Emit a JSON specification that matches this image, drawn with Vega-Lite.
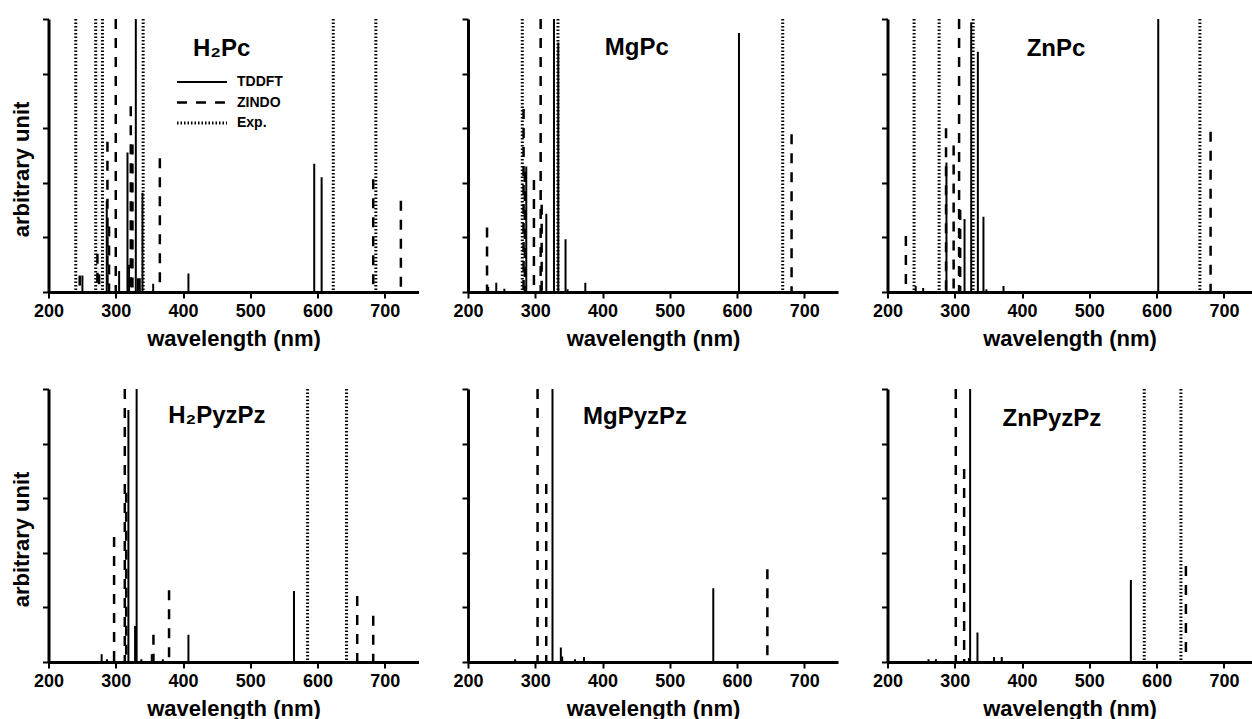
{
  "$schema": "https://vega.github.io/schema/vega-lite/v6.json",
  "padding": {"left": 10.5, "top": 17, "right": 0, "bottom": 0},
  "background": "white",
  "config": {
    "view": {"stroke": null},
    "font": "Liberation Sans",
    "axis": {
      "domainColor": "black", "domainWidth": 3, "tickColor": "black", "tickWidth": 2, "tickSize": 6,
      "labelFont": "Liberation Sans", "labelFontSize": 18, "labelFontWeight": "bold", "labelColor": "black",
      "titleFont": "Liberation Sans", "titleFontSize": 22, "titleFontWeight": "bold", "titleColor": "black",
      "grid": false, "labelOverlap": false, "labelFlush": false
    },
    "axisX": {"labelExpr": "datum.value % 100 === 0 ? datum.label : ''", "labelPadding": 4, "titlePadding": 8,
      "encode": {"ticks": {"update": {"y2": {"signal": "datum.value % 100 === 0 ? 6 : 3"}}}}},
    "axisY": {"labels": false, "titlePadding": 8, "values": [0,0.1,0.2,0.3,0.4,0.5,0.6,0.7,0.8,0.9,1],
      "encode": {"ticks": {"update": {"x2": {"signal": "round(datum.value*10) % 2 === 0 ? -6 : -3"}}}}},
    "legend": {"labelFont": "Liberation Sans"}
  },
  "datasets": {
    "sticks": [
      {"panel": "H2Pc", "method": "Exp.", "wl": 240.5, "h": 1},
      {"panel": "H2Pc", "method": "Exp.", "wl": 270.2, "h": 1},
      {"panel": "H2Pc", "method": "Exp.", "wl": 280.2, "h": 1},
      {"panel": "H2Pc", "method": "Exp.", "wl": 340.7, "h": 1},
      {"panel": "H2Pc", "method": "Exp.", "wl": 623.3, "h": 1},
      {"panel": "H2Pc", "method": "Exp.", "wl": 686.6, "h": 1},
      {"panel": "H2Pc", "method": "TDDFT", "wl": 250.4, "h": 0.06},
      {"panel": "H2Pc", "method": "TDDFT", "wl": 286.6, "h": 0.334},
      {"panel": "H2Pc", "method": "TDDFT", "wl": 305, "h": 0.077},
      {"panel": "H2Pc", "method": "TDDFT", "wl": 317.4, "h": 0.511},
      {"panel": "H2Pc", "method": "TDDFT", "wl": 319.8, "h": 0.1},
      {"panel": "H2Pc", "method": "TDDFT", "wl": 329.8, "h": 1.0},
      {"panel": "H2Pc", "method": "TDDFT", "wl": 333, "h": 0.05},
      {"panel": "H2Pc", "method": "TDDFT", "wl": 335.7, "h": 0.05},
      {"panel": "H2Pc", "method": "TDDFT", "wl": 339.7, "h": 0.364},
      {"panel": "H2Pc", "method": "TDDFT", "wl": 355.6, "h": 0.03},
      {"panel": "H2Pc", "method": "TDDFT", "wl": 408, "h": 0.068},
      {"panel": "H2Pc", "method": "TDDFT", "wl": 595, "h": 0.47},
      {"panel": "H2Pc", "method": "TDDFT", "wl": 606, "h": 0.42},
      {"panel": "H2Pc", "method": "ZINDO", "wl": 246.4, "h": 0.06},
      {"panel": "H2Pc", "method": "ZINDO", "wl": 272.7, "h": 0.14},
      {"panel": "H2Pc", "method": "ZINDO", "wl": 275.2, "h": 0.065},
      {"panel": "H2Pc", "method": "ZINDO", "wl": 287.6, "h": 0.55},
      {"panel": "H2Pc", "method": "ZINDO", "wl": 290, "h": 0.24},
      {"panel": "H2Pc", "method": "ZINDO", "wl": 300, "h": 1.0},
      {"panel": "H2Pc", "method": "ZINDO", "wl": 322.3, "h": 0.68},
      {"panel": "H2Pc", "method": "ZINDO", "wl": 324.8, "h": 0.54},
      {"panel": "H2Pc", "method": "ZINDO", "wl": 365.5, "h": 0.49},
      {"panel": "H2Pc", "method": "ZINDO", "wl": 682.7, "h": 0.413},
      {"panel": "H2Pc", "method": "ZINDO", "wl": 723.8, "h": 0.334},

      {"panel": "MgPc", "method": "Exp.", "wl": 280.7, "h": 1},
      {"panel": "MgPc", "method": "Exp.", "wl": 333.7, "h": 1},
      {"panel": "MgPc", "method": "Exp.", "wl": 667.8, "h": 1},
      {"panel": "MgPc", "method": "TDDFT", "wl": 230, "h": 0.018},
      {"panel": "MgPc", "method": "TDDFT", "wl": 242, "h": 0.034},
      {"panel": "MgPc", "method": "TDDFT", "wl": 254, "h": 0.012},
      {"panel": "MgPc", "method": "TDDFT", "wl": 286.6, "h": 0.46},
      {"panel": "MgPc", "method": "TDDFT", "wl": 316.4, "h": 0.287},
      {"panel": "MgPc", "method": "TDDFT", "wl": 327.8, "h": 1.0},
      {"panel": "MgPc", "method": "TDDFT", "wl": 334.2, "h": 0.914},
      {"panel": "MgPc", "method": "TDDFT", "wl": 345, "h": 0.193},
      {"panel": "MgPc", "method": "TDDFT", "wl": 348, "h": 0.01},
      {"panel": "MgPc", "method": "TDDFT", "wl": 374.4, "h": 0.034},
      {"panel": "MgPc", "method": "TDDFT", "wl": 602.8, "h": 0.949},
      {"panel": "MgPc", "method": "ZINDO", "wl": 228.3, "h": 0.236},
      {"panel": "MgPc", "method": "ZINDO", "wl": 282.6, "h": 0.67},
      {"panel": "MgPc", "method": "ZINDO", "wl": 284.5, "h": 0.44},
      {"panel": "MgPc", "method": "ZINDO", "wl": 298, "h": 0.41},
      {"panel": "MgPc", "method": "ZINDO", "wl": 308, "h": 1.0},
      {"panel": "MgPc", "method": "ZINDO", "wl": 309.5, "h": 0.32},
      {"panel": "MgPc", "method": "ZINDO", "wl": 681, "h": 0.578},

      {"panel": "ZnPc", "method": "Exp.", "wl": 239.5, "h": 1},
      {"panel": "ZnPc", "method": "Exp.", "wl": 276.7, "h": 1},
      {"panel": "ZnPc", "method": "Exp.", "wl": 327.3, "h": 1},
      {"panel": "ZnPc", "method": "Exp.", "wl": 664.3, "h": 1},
      {"panel": "ZnPc", "method": "TDDFT", "wl": 242, "h": 0.022},
      {"panel": "ZnPc", "method": "TDDFT", "wl": 253, "h": 0.015},
      {"panel": "ZnPc", "method": "TDDFT", "wl": 287.6, "h": 0.474},
      {"panel": "ZnPc", "method": "TDDFT", "wl": 314.5, "h": 0.267},
      {"panel": "ZnPc", "method": "TDDFT", "wl": 324.4, "h": 0.988},
      {"panel": "ZnPc", "method": "TDDFT", "wl": 334.3, "h": 0.88},
      {"panel": "ZnPc", "method": "TDDFT", "wl": 342.6, "h": 0.276},
      {"panel": "ZnPc", "method": "TDDFT", "wl": 347, "h": 0.01},
      {"panel": "ZnPc", "method": "TDDFT", "wl": 372.4, "h": 0.022},
      {"panel": "ZnPc", "method": "TDDFT", "wl": 602.4, "h": 1.0},
      {"panel": "ZnPc", "method": "ZINDO", "wl": 227.3, "h": 0.205},
      {"panel": "ZnPc", "method": "ZINDO", "wl": 287, "h": 0.6},
      {"panel": "ZnPc", "method": "ZINDO", "wl": 298.3, "h": 0.537},
      {"panel": "ZnPc", "method": "ZINDO", "wl": 306.4, "h": 1.0},
      {"panel": "ZnPc", "method": "ZINDO", "wl": 308, "h": 0.3},
      {"panel": "ZnPc", "method": "ZINDO", "wl": 680.2, "h": 0.587},

      {"panel": "H2PyzPz", "method": "Exp.", "wl": 585.1, "h": 1},
      {"panel": "H2PyzPz", "method": "Exp.", "wl": 643, "h": 1},
      {"panel": "H2PyzPz", "method": "TDDFT", "wl": 279, "h": 0.028},
      {"panel": "H2PyzPz", "method": "TDDFT", "wl": 287, "h": 0.01},
      {"panel": "H2PyzPz", "method": "TDDFT", "wl": 318.8, "h": 0.923},
      {"panel": "H2PyzPz", "method": "TDDFT", "wl": 328.7, "h": 0.132},
      {"panel": "H2PyzPz", "method": "TDDFT", "wl": 331, "h": 1.0},
      {"panel": "H2PyzPz", "method": "TDDFT", "wl": 338, "h": 0.01},
      {"panel": "H2PyzPz", "method": "TDDFT", "wl": 353.5, "h": 0.028},
      {"panel": "H2PyzPz", "method": "TDDFT", "wl": 370, "h": 0.01},
      {"panel": "H2PyzPz", "method": "TDDFT", "wl": 408, "h": 0.1},
      {"panel": "H2PyzPz", "method": "TDDFT", "wl": 564.9, "h": 0.26},
      {"panel": "H2PyzPz", "method": "ZINDO", "wl": 297.5, "h": 0.458},
      {"panel": "H2PyzPz", "method": "ZINDO", "wl": 313.4, "h": 1.0},
      {"panel": "H2PyzPz", "method": "ZINDO", "wl": 315.5, "h": 0.62},
      {"panel": "H2PyzPz", "method": "ZINDO", "wl": 356, "h": 0.1},
      {"panel": "H2PyzPz", "method": "ZINDO", "wl": 379.2, "h": 0.263},
      {"panel": "H2PyzPz", "method": "ZINDO", "wl": 658.9, "h": 0.242},
      {"panel": "H2PyzPz", "method": "ZINDO", "wl": 682.7, "h": 0.169},

      {"panel": "MgPyzPz", "method": "TDDFT", "wl": 270, "h": 0.01},
      {"panel": "MgPyzPz", "method": "TDDFT", "wl": 316, "h": 0.01},
      {"panel": "MgPyzPz", "method": "TDDFT", "wl": 325.6, "h": 1.0},
      {"panel": "MgPyzPz", "method": "TDDFT", "wl": 338, "h": 0.053},
      {"panel": "MgPyzPz", "method": "TDDFT", "wl": 340, "h": 0.02},
      {"panel": "MgPyzPz", "method": "TDDFT", "wl": 359, "h": 0.01},
      {"panel": "MgPyzPz", "method": "TDDFT", "wl": 372.4, "h": 0.018},
      {"panel": "MgPyzPz", "method": "TDDFT", "wl": 564.6, "h": 0.27},
      {"panel": "MgPyzPz", "method": "ZINDO", "wl": 303.4, "h": 1.0},
      {"panel": "MgPyzPz", "method": "ZINDO", "wl": 316.3, "h": 0.652},
      {"panel": "MgPyzPz", "method": "ZINDO", "wl": 645, "h": 0.34},

      {"panel": "ZnPyzPz", "method": "Exp.", "wl": 581.6, "h": 1},
      {"panel": "ZnPyzPz", "method": "Exp.", "wl": 636.1, "h": 1},
      {"panel": "ZnPyzPz", "method": "TDDFT", "wl": 261, "h": 0.01},
      {"panel": "ZnPyzPz", "method": "TDDFT", "wl": 272, "h": 0.01},
      {"panel": "ZnPyzPz", "method": "TDDFT", "wl": 321, "h": 0.015},
      {"panel": "ZnPyzPz", "method": "TDDFT", "wl": 322.8, "h": 1.0},
      {"panel": "ZnPyzPz", "method": "TDDFT", "wl": 333.7, "h": 0.108},
      {"panel": "ZnPyzPz", "method": "TDDFT", "wl": 358.4, "h": 0.018},
      {"panel": "ZnPyzPz", "method": "TDDFT", "wl": 369.8, "h": 0.018},
      {"panel": "ZnPyzPz", "method": "TDDFT", "wl": 561.7, "h": 0.3},
      {"panel": "ZnPyzPz", "method": "ZINDO", "wl": 301.5, "h": 1.0},
      {"panel": "ZnPyzPz", "method": "ZINDO", "wl": 313.9, "h": 0.707},
      {"panel": "ZnPyzPz", "method": "ZINDO", "wl": 643.5, "h": 0.352}
    ]
  },
  "data": {"name": "sticks"},
  "bounds": "flush",
  "columns": 3,
  "spacing": {"row": 97, "column": 49.5},
  "concat": [
    {
      "width": 370, "height": 273,
      "layer": [
        {
          "transform": [{"filter": "datum.panel === 'H2Pc'"}],
          "mark": {"type": "rule", "color": "black", "strokeCap": "butt"},
          "encoding": {
            "x": {"field": "wl", "type": "quantitative", "scale": {"domain": [200, 750], "nice": false, "zero": false},
                  "axis": {"values": [200,250,300,350,400,450,500,550,600,650,700,750], "title": "wavelength (nm)"}},
            "y": {"field": "h", "type": "quantitative", "scale": {"domain": [0, 1], "nice": false},
                  "axis": {"title": "arbitrary unit", "titleY": 150}},
            "y2": {"datum": 0},
            "strokeDash": {"field": "method", "type": "nominal", "scale": {"domain": ["TDDFT", "ZINDO", "Exp."], "range": [[1, 0], [10, 9], [1.5, 2]]},
                  "legend": {"orient": "none", "legendX": 146.5, "legendY": 56, "title": null, "symbolType": "M-5,0H5", "symbolSize": 100, "symbolStrokeColor": "black", "labelFontSize": 14, "labelFontWeight": "bold", "labelColor": "black", "labelOffset": 28, "rowPadding": 6.5, "padding": 0}},
            "strokeWidth": {"field": "method", "type": "nominal", "scale": {"domain": ["TDDFT", "ZINDO", "Exp."], "range": [2, 3, 1.5]},
                  "legend": {"orient": "none", "legendX": 146.5, "legendY": 56, "title": null, "symbolType": "M-5,0H5", "symbolSize": 100, "symbolStrokeColor": "black", "labelFontSize": 14, "labelFontWeight": "bold", "labelColor": "black", "labelOffset": 28, "rowPadding": 6.5, "padding": 0}}
          }
        },
        {
          "data": {"values": [{"name": "H₂Pc"}]},
          "mark": {"type": "text", "align": "left", "baseline": "alphabetic", "fontSize": 24, "fontWeight": "bold", "color": "black"},
          "encoding": {"x": {"datum": 414.8, "type": "quantitative"}, "y": {"datum": 0.865, "type": "quantitative"}, "text": {"field": "name"}}
        }
      ]
    },
    {
      "width": 370, "height": 273,
      "layer": [
        {
          "transform": [{"filter": "datum.panel === 'MgPc'"}],
          "mark": {"type": "rule", "color": "black", "strokeCap": "butt"},
          "encoding": {
            "x": {"field": "wl", "type": "quantitative", "scale": {"domain": [200, 750], "nice": false, "zero": false},
                  "axis": {"values": [200,250,300,350,400,450,500,550,600,650,700,750], "title": "wavelength (nm)"}},
            "y": {"field": "h", "type": "quantitative", "scale": {"domain": [0, 1], "nice": false},
                  "axis": {"title": null}},
            "y2": {"datum": 0},
            "strokeDash": {"field": "method", "type": "nominal", "scale": {"domain": ["TDDFT", "ZINDO", "Exp."], "range": [[1, 0], [10, 9], [1.5, 2]]},
                  "legend": {"orient": "none", "legendX": 146.5, "legendY": 56, "title": null, "symbolType": "M-5,0H5", "symbolSize": 100, "symbolStrokeColor": "black", "labelFontSize": 14, "labelFontWeight": "bold", "labelColor": "black", "labelOffset": 28, "rowPadding": 6.5, "padding": 0}},
            "strokeWidth": {"field": "method", "type": "nominal", "scale": {"domain": ["TDDFT", "ZINDO", "Exp."], "range": [2, 3, 1.5]},
                  "legend": {"orient": "none", "legendX": 146.5, "legendY": 56, "title": null, "symbolType": "M-5,0H5", "symbolSize": 100, "symbolStrokeColor": "black", "labelFontSize": 14, "labelFontWeight": "bold", "labelColor": "black", "labelOffset": 28, "rowPadding": 6.5, "padding": 0}}
          }
        },
        {
          "data": {"values": [{"name": "MgPc"}]},
          "mark": {"type": "text", "align": "left", "baseline": "alphabetic", "fontSize": 24, "fontWeight": "bold", "color": "black"},
          "encoding": {"x": {"datum": 403.4, "type": "quantitative"}, "y": {"datum": 0.868, "type": "quantitative"}, "text": {"field": "name"}}
        }
      ]
    },
    {
      "width": 364, "height": 273,
      "layer": [
        {
          "transform": [{"filter": "datum.panel === 'ZnPc'"}],
          "mark": {"type": "rule", "color": "black", "strokeCap": "butt"},
          "encoding": {
            "x": {"field": "wl", "type": "quantitative", "scale": {"domain": [200, 741], "nice": false, "zero": false},
                  "axis": {"values": [200,250,300,350,400,450,500,550,600,650,700], "title": "wavelength (nm)"}},
            "y": {"field": "h", "type": "quantitative", "scale": {"domain": [0, 1], "nice": false},
                  "axis": {"title": null}},
            "y2": {"datum": 0},
            "strokeDash": {"field": "method", "type": "nominal", "scale": {"domain": ["TDDFT", "ZINDO", "Exp."], "range": [[1, 0], [10, 9], [1.5, 2]]},
                  "legend": {"orient": "none", "legendX": 146.5, "legendY": 56, "title": null, "symbolType": "M-5,0H5", "symbolSize": 100, "symbolStrokeColor": "black", "labelFontSize": 14, "labelFontWeight": "bold", "labelColor": "black", "labelOffset": 28, "rowPadding": 6.5, "padding": 0}},
            "strokeWidth": {"field": "method", "type": "nominal", "scale": {"domain": ["TDDFT", "ZINDO", "Exp."], "range": [2, 3, 1.5]},
                  "legend": {"orient": "none", "legendX": 146.5, "legendY": 56, "title": null, "symbolType": "M-5,0H5", "symbolSize": 100, "symbolStrokeColor": "black", "labelFontSize": 14, "labelFontWeight": "bold", "labelColor": "black", "labelOffset": 28, "rowPadding": 6.5, "padding": 0}}
          }
        },
        {
          "data": {"values": [{"name": "ZnPc"}]},
          "mark": {"type": "text", "align": "left", "baseline": "alphabetic", "fontSize": 24, "fontWeight": "bold", "color": "black"},
          "encoding": {"x": {"datum": 406.8, "type": "quantitative"}, "y": {"datum": 0.865, "type": "quantitative"}, "text": {"field": "name"}}
        }
      ]
    },
    {
      "width": 370, "height": 273,
      "layer": [
        {
          "transform": [{"filter": "datum.panel === 'H2PyzPz'"}],
          "mark": {"type": "rule", "color": "black", "strokeCap": "butt"},
          "encoding": {
            "x": {"field": "wl", "type": "quantitative", "scale": {"domain": [200, 750], "nice": false, "zero": false},
                  "axis": {"values": [200,250,300,350,400,450,500,550,600,650,700,750], "title": "wavelength (nm)"}},
            "y": {"field": "h", "type": "quantitative", "scale": {"domain": [0, 1], "nice": false},
                  "axis": {"title": "arbitrary unit", "titleY": 150}},
            "y2": {"datum": 0},
            "strokeDash": {"field": "method", "type": "nominal", "scale": {"domain": ["TDDFT", "ZINDO", "Exp."], "range": [[1, 0], [10, 9], [1.5, 2]]},
                  "legend": {"orient": "none", "legendX": 146.5, "legendY": 56, "title": null, "symbolType": "M-5,0H5", "symbolSize": 100, "symbolStrokeColor": "black", "labelFontSize": 14, "labelFontWeight": "bold", "labelColor": "black", "labelOffset": 28, "rowPadding": 6.5, "padding": 0}},
            "strokeWidth": {"field": "method", "type": "nominal", "scale": {"domain": ["TDDFT", "ZINDO", "Exp."], "range": [2, 3, 1.5]},
                  "legend": {"orient": "none", "legendX": 146.5, "legendY": 56, "title": null, "symbolType": "M-5,0H5", "symbolSize": 100, "symbolStrokeColor": "black", "labelFontSize": 14, "labelFontWeight": "bold", "labelColor": "black", "labelOffset": 28, "rowPadding": 6.5, "padding": 0}}
          }
        },
        {
          "data": {"values": [{"name": "H₂PyzPz"}]},
          "mark": {"type": "text", "align": "left", "baseline": "alphabetic", "fontSize": 24, "fontWeight": "bold", "color": "black"},
          "encoding": {"x": {"datum": 378, "type": "quantitative"}, "y": {"datum": 0.877, "type": "quantitative"}, "text": {"field": "name"}}
        }
      ]
    },
    {
      "width": 370, "height": 273,
      "layer": [
        {
          "transform": [{"filter": "datum.panel === 'MgPyzPz'"}],
          "mark": {"type": "rule", "color": "black", "strokeCap": "butt"},
          "encoding": {
            "x": {"field": "wl", "type": "quantitative", "scale": {"domain": [200, 750], "nice": false, "zero": false},
                  "axis": {"values": [200,250,300,350,400,450,500,550,600,650,700,750], "title": "wavelength (nm)"}},
            "y": {"field": "h", "type": "quantitative", "scale": {"domain": [0, 1], "nice": false},
                  "axis": {"title": null}},
            "y2": {"datum": 0},
            "strokeDash": {"field": "method", "type": "nominal", "scale": {"domain": ["TDDFT", "ZINDO", "Exp."], "range": [[1, 0], [10, 9], [1.5, 2]]},
                  "legend": {"orient": "none", "legendX": 146.5, "legendY": 56, "title": null, "symbolType": "M-5,0H5", "symbolSize": 100, "symbolStrokeColor": "black", "labelFontSize": 14, "labelFontWeight": "bold", "labelColor": "black", "labelOffset": 28, "rowPadding": 6.5, "padding": 0}},
            "strokeWidth": {"field": "method", "type": "nominal", "scale": {"domain": ["TDDFT", "ZINDO", "Exp."], "range": [2, 3, 1.5]},
                  "legend": {"orient": "none", "legendX": 146.5, "legendY": 56, "title": null, "symbolType": "M-5,0H5", "symbolSize": 100, "symbolStrokeColor": "black", "labelFontSize": 14, "labelFontWeight": "bold", "labelColor": "black", "labelOffset": 28, "rowPadding": 6.5, "padding": 0}}
          }
        },
        {
          "data": {"values": [{"name": "MgPyzPz"}]},
          "mark": {"type": "text", "align": "left", "baseline": "alphabetic", "fontSize": 24, "fontWeight": "bold", "color": "black"},
          "encoding": {"x": {"datum": 371.1, "type": "quantitative"}, "y": {"datum": 0.872, "type": "quantitative"}, "text": {"field": "name"}}
        }
      ]
    },
    {
      "width": 364, "height": 273,
      "layer": [
        {
          "transform": [{"filter": "datum.panel === 'ZnPyzPz'"}],
          "mark": {"type": "rule", "color": "black", "strokeCap": "butt"},
          "encoding": {
            "x": {"field": "wl", "type": "quantitative", "scale": {"domain": [200, 741], "nice": false, "zero": false},
                  "axis": {"values": [200,250,300,350,400,450,500,550,600,650,700], "title": "wavelength (nm)"}},
            "y": {"field": "h", "type": "quantitative", "scale": {"domain": [0, 1], "nice": false},
                  "axis": {"title": null}},
            "y2": {"datum": 0},
            "strokeDash": {"field": "method", "type": "nominal", "scale": {"domain": ["TDDFT", "ZINDO", "Exp."], "range": [[1, 0], [10, 9], [1.5, 2]]},
                  "legend": {"orient": "none", "legendX": 146.5, "legendY": 56, "title": null, "symbolType": "M-5,0H5", "symbolSize": 100, "symbolStrokeColor": "black", "labelFontSize": 14, "labelFontWeight": "bold", "labelColor": "black", "labelOffset": 28, "rowPadding": 6.5, "padding": 0}},
            "strokeWidth": {"field": "method", "type": "nominal", "scale": {"domain": ["TDDFT", "ZINDO", "Exp."], "range": [2, 3, 1.5]},
                  "legend": {"orient": "none", "legendX": 146.5, "legendY": 56, "title": null, "symbolType": "M-5,0H5", "symbolSize": 100, "symbolStrokeColor": "black", "labelFontSize": 14, "labelFontWeight": "bold", "labelColor": "black", "labelOffset": 28, "rowPadding": 6.5, "padding": 0}}
          }
        },
        {
          "data": {"values": [{"name": "ZnPyzPz"}]},
          "mark": {"type": "text", "align": "left", "baseline": "alphabetic", "fontSize": 24, "fontWeight": "bold", "color": "black"},
          "encoding": {"x": {"datum": 371.1, "type": "quantitative"}, "y": {"datum": 0.865, "type": "quantitative"}, "text": {"field": "name"}}
        }
      ]
    }
  ]
}
